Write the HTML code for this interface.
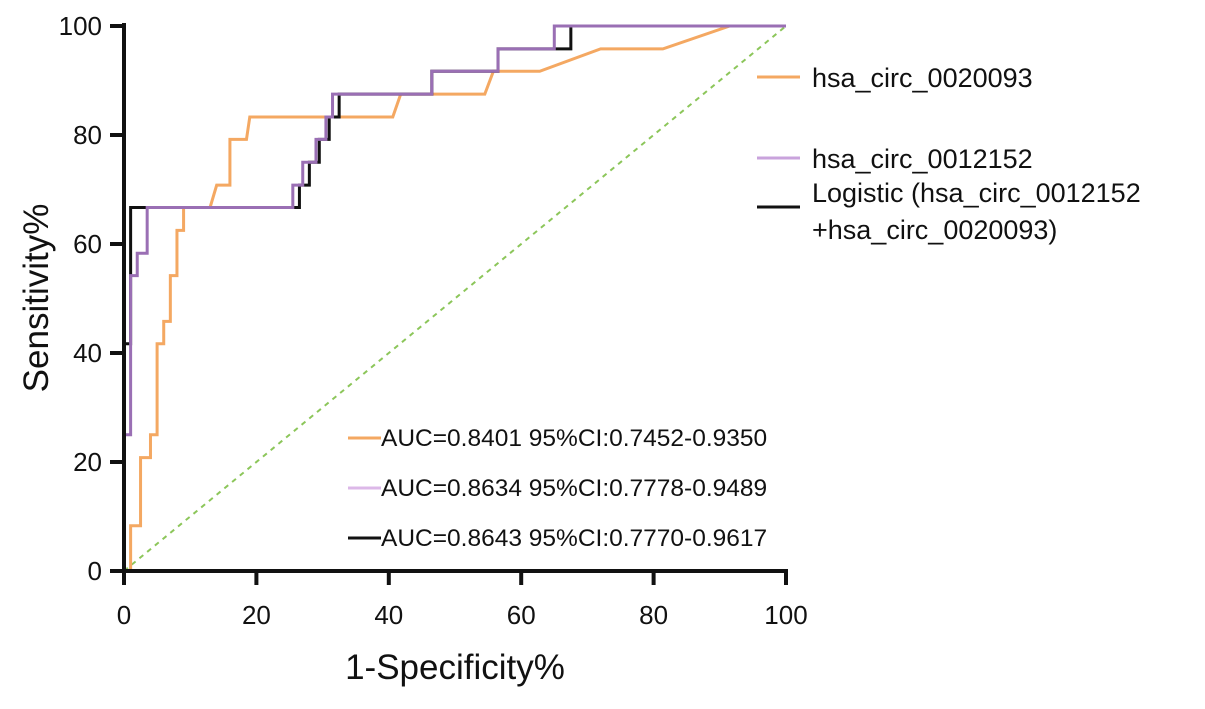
<!DOCTYPE html>
<html><head><meta charset="utf-8"><style>
body{margin:0;background:#fff;}
svg text{font-family:"Liberation Sans",Arial,sans-serif;fill:#111;}
</style></head><body>
<svg id="chart" width="1205" height="704">
<g id="marks"></g>
<g id="axes"></g>
</svg>
<script>
const xTicks=[0,20,40,60,80,100];
const yTicks=[0,20,40,60,80,100];
const orangeX=[0,1,1,2.5,2.5,4,4,5,5,6,6,7,7,8,8,9,9,13,14,16,16,18.5,19,40.6,41.8,54.5,55.8,62.8,72,81.4,91.5,100];
const orangeY=[0,0,8.3,8.3,20.8,20.8,25,25,41.7,41.7,45.8,45.8,54.2,54.2,62.5,62.5,66.7,66.7,70.8,70.8,79.2,79.2,83.3,83.3,87.5,87.5,91.7,91.7,95.8,95.8,100,100];
const purpleX=[0,0,1,1,2,2,3.5,3.5,25.5,25.5,27,27,29,29,30.5,30.5,31.5,31.5,46.5,46.5,56.5,56.5,65,65,100];
const purpleY=[0,25,25,54.2,54.2,58.3,58.3,66.7,66.7,70.8,70.8,75,75,79.2,79.2,83.3,83.3,87.5,87.5,91.7,91.7,95.8,95.8,100,100];
const blackX=[0,0,1,1,26.5,26.5,28,28,29.5,29.5,31,31,32.5,32.5,46.5,46.5,56.5,56.5,67.5,67.5,100];
const blackY=[0,41.7,41.7,66.7,66.7,70.8,70.8,75,75,79.2,79.2,83.3,83.3,87.5,87.5,91.7,91.7,95.8,95.8,100,100];
const seriesNames=["hsa_circ_0020093","hsa_circ_0012152","Logistic"];
const aucLabels=["AUC=0.8401 95%CI:0.7452-0.9350","AUC=0.8634 95%CI:0.7778-0.9489","AUC=0.8643 95%CI:0.7770-0.9617"];
const X=v=>124+6.62*v, Y=v=>571-5.45*v;
const NS="http://www.w3.org/2000/svg";
const marks=document.getElementById('marks'), axes=document.getElementById('axes');
function mk(tag,attrs,parent,text){const e=document.createElementNS(NS,tag);for(const k in attrs)e.setAttribute(k,attrs[k]);if(text!==undefined)e.textContent=text;parent.appendChild(e);return e;}
let ref=mk('line',{x1:X(0),y1:Y(0),x2:X(100),y2:Y(100),stroke:'#8cc65a','stroke-width':2,'stroke-dasharray':'5,5'},marks);


const ser=[[orangeX,orangeY,'#f4a862','orange-roc-curve'],[blackX,blackY,'#111','logistic-roc-curve'],[purpleX,purpleY,'#9a6fb4','purple-roc-curve']];
ser.forEach(s=>{const pts=s[0].map((x,i)=>X(x)+','+Y(s[1][i])).join(' ');
const p=mk('polyline',{points:pts,fill:'none',stroke:s[2],'stroke-width':3},marks);

});
let ax=mk('path',{d:`M${X(0)},${Y(100)-3}V${Y(0)}H${X(100)+2}`,fill:'none',stroke:'#111','stroke-width':4},axes);


xTicks.forEach(t=>{mk('line',{x1:X(t),y1:Y(0),x2:X(t),y2:Y(0)+14,stroke:'#111','stroke-width':4},axes);
const tx=mk('text',{x:X(t),y:624,'font-size':26,'text-anchor':'middle'},axes,t);

});
yTicks.forEach(t=>{mk('line',{x1:X(0)-14,y1:Y(t),x2:X(0),y2:Y(t),stroke:'#111','stroke-width':4},axes);
const tx=mk('text',{x:102,y:Y(t)+9,'font-size':26,'text-anchor':'end'},axes,t);

});
let xt=mk('text',{x:455,y:679,'font-size':35,'text-anchor':'middle'},axes,'1-Specificity%');


let yt=mk('text',{x:0,y:0,'font-size':35,'text-anchor':'middle',transform:'translate(48,298) rotate(-90)'},axes,'Sensitivity%');


const lg=[[77,'#f4a862'],[158,'#c9a3dc'],[207,'#111']];
lg.forEach((l,i)=>{mk('line',{x1:757,y1:l[0],x2:800,y2:l[0],stroke:l[1],'stroke-width':3},axes);});
let l1=mk('text',{x:812,y:87,'font-size':27},axes,seriesNames[0]);


let l2=mk('text',{x:812,y:168,'font-size':27},axes,seriesNames[1]);


let l3=mk('text',{x:812,y:202,'font-size':27},axes,'Logistic (hsa_circ_0012152');


mk('text',{x:812,y:239,'font-size':27},axes,'+hsa_circ_0020093)');
const al=[[438,'#f4a862'],[488,'#dcb8e8'],[538,'#111']];
al.forEach((a,i)=>{mk('line',{x1:348,y1:a[0],x2:381,y2:a[0],stroke:a[1],'stroke-width':3},axes);
const t=mk('text',{x:381,y:a[0]+8,'font-size':24.5},axes,aucLabels[i]);

});
</script>
</body></html>
